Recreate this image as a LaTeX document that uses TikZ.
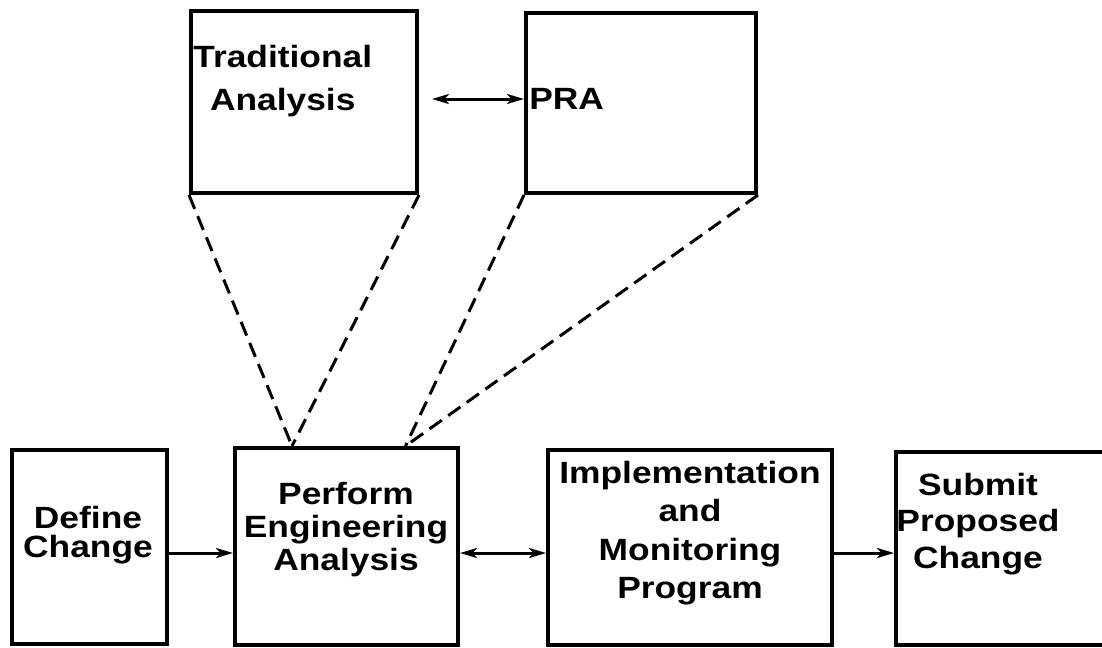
\documentclass[tikz,border=0pt]{standalone}
\usepackage{fontspec}
\setmainfont{Liberation Sans}[FakeStretch=1.15]
\usetikzlibrary{calc,arrows.meta}
\tikzset{
	box/.style={draw, line width=2.3pt, inner sep=0pt},
	lbl/.style={align=center, inner sep=0pt},
	tip/.tip={Stealth[length=0.34cm, width=0.2cm, inset=0.09cm]},
	arr/.style={line width=1.7pt, -tip},
	dblarr/.style={line width=1.7pt, tip-tip},
	dsh/.style={line width=1.7pt, dash pattern=on 8.5pt off 4.5pt}
}

\begin{document}
\begin{tikzpicture}[x=0.02cm, y=-0.02cm]
		%%%%% START %%%%%
		
		\clip (0, 0) rectangle (1102, 647);
		\fill[white] (0, 0) rectangle (1102, 647);
		
		% top row
		\node[box, minimum width=4.52cm, minimum height=3.64cm] (trad) at (304, 102) {};
		\node[box, minimum width=4.60cm, minimum height=3.60cm] (pra) at (641, 103) {};
		
		\node[lbl, anchor=west, font=\fontsize{17.5}{24.5}\selectfont\bfseries] (tradtext) at (193, 81) {Traditional\\Analysis};
		\node[lbl, anchor=west, font=\fontsize{17.5}{20}\selectfont\bfseries] (pratext) at (529, 99) {PRA};
		
		% bottom row
		\node[box, minimum width=3.10cm, minimum height=3.88cm] (define) at (89.5, 547) {};
		\node[box, minimum width=4.46cm, minimum height=3.94cm] (perform) at (346.5, 546.5) {};
		\node[box, minimum width=5.68cm, minimum height=3.90cm] (implement) at (690, 547.5) {};
		\node[box, minimum width=4.38cm, minimum height=3.86cm] (submit) at (1005.5, 548.5) {};
		
		\node[lbl, font=\fontsize{17.5}{16.6}\selectfont\bfseries] (definetext) at (88, 535) {Define\\Change};
		\node[lbl, font=\fontsize{17.5}{18.8}\selectfont\bfseries] (performtext) at (346, 530) {Perform\\Engineering\\Analysis};
		\node[lbl, font=\fontsize{17.5}{21.8}\selectfont\bfseries] (implementtext) at (690, 533) {Implementation\\and\\Monitoring\\Program};
		\node[lbl, font=\fontsize{17.5}{20.8}\selectfont\bfseries] (submittext) at (978, 524) {Submit\\Proposed\\Change};
		
		% connectors
		\coordinate (toprow) at (0, 99);
		\coordinate (botrow) at (0, 553);
		\coordinate (pealeft) at ($(perform.north west)!0.26!(perform.north east)$);
		\coordinate (pearight) at ($(perform.north west)!0.76!(perform.north east)$);
		
		\draw[dblarr] ([xshift=0.26cm]trad.east |- toprow) -- (pra.west |- toprow);
		\draw[arr] (define.east |- botrow) -- (perform.west |- botrow);
		\draw[dblarr] (perform.east |- botrow) -- (implement.west |- botrow);
		\draw[arr] (implement.east |- botrow) -- (submit.west |- botrow);
		
		\draw[dsh] (trad.south west) -- (pealeft);
		\draw[dsh] (trad.south east) -- (pealeft);
		\draw[dsh] (pra.south west) -- (pearight);
		\draw[dsh] (pra.south east) -- (pearight);
		
		%%%%% END %%%%%
	\end{tikzpicture}
\end{document}
